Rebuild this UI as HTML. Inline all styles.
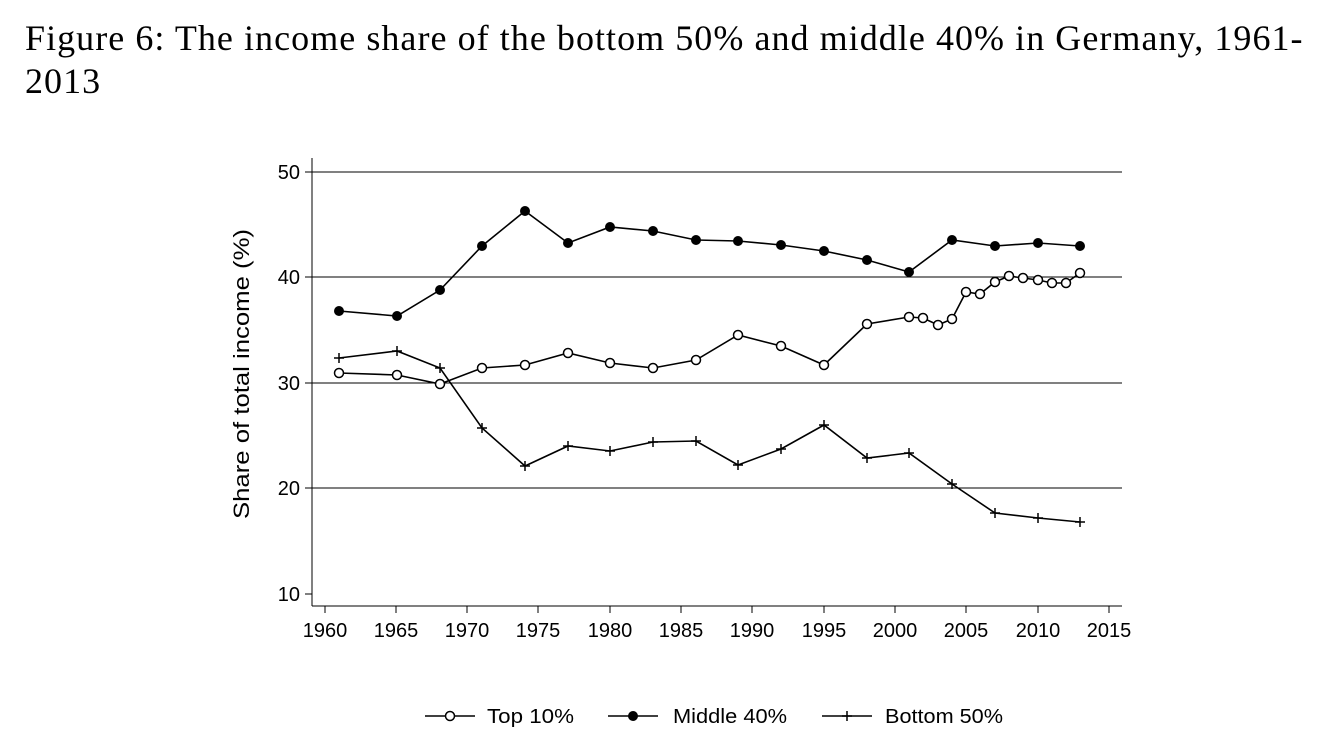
<!DOCTYPE html>
<html><head><meta charset="utf-8"><style>
body{margin:0;background:#fff;width:1338px;height:750px;overflow:hidden}
.t{position:absolute;left:25px;top:17px;font-family:"Liberation Serif",serif;font-size:36px;line-height:43px;color:#000;width:1320px;letter-spacing:1.05px}
svg{position:absolute;left:0;top:0}
text{font-family:"Liberation Sans",sans-serif;font-size:20px;fill:#000}
</style></head><body>
<div class="t">Figure 6: The income share of the bottom 50% and middle 40% in Germany, 1961-<br>2013</div>
<svg width="1338" height="750" viewBox="0 0 1338 750">
<g stroke="#000" stroke-width="1" fill="none">
<line x1="312" y1="172" x2="1122" y2="172"/>
<line x1="312" y1="277" x2="1122" y2="277"/>
<line x1="312" y1="383" x2="1122" y2="383"/>
<line x1="312" y1="488" x2="1122" y2="488"/>
<line x1="312" y1="158" x2="312" y2="606"/>
<line x1="312" y1="606" x2="1122" y2="606"/>
<path d="M305 172H312M305 277H312M305 383H312M305 488H312M305 594H312"/>
<path d="M325 606v7M396 606v7M467 606v7M538 606v7M610 606v7M681 606v7M752 606v7M824 606v7M895 606v7M966 606v7M1038 606v7M1109 606v7"/>
</g>
<g text-anchor="end"><text x="300" y="179">50</text><text x="300" y="284">40</text><text x="300" y="390">30</text><text x="300" y="495">20</text><text x="300" y="601">10</text></g>
<g text-anchor="middle"><text x="325" y="637">1960</text><text x="396" y="637">1965</text><text x="467" y="637">1970</text><text x="538" y="637">1975</text><text x="610" y="637">1980</text><text x="681" y="637">1985</text><text x="752" y="637">1990</text><text x="824" y="637">1995</text><text x="895" y="637">2000</text><text x="966" y="637">2005</text><text x="1038" y="637">2010</text><text x="1109" y="637">2015</text></g>
<text transform="translate(249,374) rotate(-90)" text-anchor="middle" style="font-size:22px" textLength="290" lengthAdjust="spacingAndGlyphs">Share of total income (%)</text>
<g stroke="#000" stroke-width="1.6" fill="none">
<polyline points="339,311 397,316 440,290 482,246 525,211 568,243 610,227 653,231 696,240 738,241 781,245 824,251 867,260 909,272 952,240 995,246 1038,243 1080,246"/>
<polyline points="339,373 397,375 440,384 482,368 525,365 568,353 610,363 653,368 696,360 738,335 781,346 824,365 867,324 909,317 923,318 938,325 952,319 966,292 980,294 995,282 1009,276 1023,278 1038,280 1052,283 1066,283 1080,273"/>
<polyline points="339,358 397,351 440,368 482,428 525,466 568,446 610,451 653,442 696,441 738,465 781,449 824,425 867,458 909,453 952,484 995,513 1038,518 1080,522"/>
</g>
<g fill="#000">
<circle cx="339" cy="311" r="5"/><circle cx="397" cy="316" r="5"/><circle cx="440" cy="290" r="5"/><circle cx="482" cy="246" r="5"/><circle cx="525" cy="211" r="5"/><circle cx="568" cy="243" r="5"/><circle cx="610" cy="227" r="5"/><circle cx="653" cy="231" r="5"/><circle cx="696" cy="240" r="5"/><circle cx="738" cy="241" r="5"/><circle cx="781" cy="245" r="5"/><circle cx="824" cy="251" r="5"/><circle cx="867" cy="260" r="5"/><circle cx="909" cy="272" r="5"/><circle cx="952" cy="240" r="5"/><circle cx="995" cy="246" r="5"/><circle cx="1038" cy="243" r="5"/><circle cx="1080" cy="246" r="5"/>
</g>
<g fill="#fff" stroke="#000" stroke-width="1.5">
<circle cx="339" cy="373" r="4.5"/><circle cx="397" cy="375" r="4.5"/><circle cx="440" cy="384" r="4.5"/><circle cx="482" cy="368" r="4.5"/><circle cx="525" cy="365" r="4.5"/><circle cx="568" cy="353" r="4.5"/><circle cx="610" cy="363" r="4.5"/><circle cx="653" cy="368" r="4.5"/><circle cx="696" cy="360" r="4.5"/><circle cx="738" cy="335" r="4.5"/><circle cx="781" cy="346" r="4.5"/><circle cx="824" cy="365" r="4.5"/><circle cx="867" cy="324" r="4.5"/><circle cx="909" cy="317" r="4.5"/><circle cx="923" cy="318" r="4.5"/><circle cx="938" cy="325" r="4.5"/><circle cx="952" cy="319" r="4.5"/><circle cx="966" cy="292" r="4.5"/><circle cx="980" cy="294" r="4.5"/><circle cx="995" cy="282" r="4.5"/><circle cx="1009" cy="276" r="4.5"/><circle cx="1023" cy="278" r="4.5"/><circle cx="1038" cy="280" r="4.5"/><circle cx="1052" cy="283" r="4.5"/><circle cx="1066" cy="283" r="4.5"/><circle cx="1080" cy="273" r="4.5"/>
</g>
<g stroke="#000" stroke-width="1.5">
<path d="M334 358h10M339 353v10M392 351h10M397 346v10M435 368h10M440 363v10M477 428h10M482 423v10M520 466h10M525 461v10M563 446h10M568 441v10M605 451h10M610 446v10M648 442h10M653 437v10M691 441h10M696 436v10M733 465h10M738 460v10M776 449h10M781 444v10M819 425h10M824 420v10M862 458h10M867 453v10M904 453h10M909 448v10M947 484h10M952 479v10M990 513h10M995 508v10M1033 518h10M1038 513v10M1075 522h10M1080 517v10"/>
<path d="M425 716h50M608 716h50M822 716h50"/>
<path d="M842 716h10M847 711v10"/>
</g>
<circle cx="450" cy="716" r="4.5" fill="#fff" stroke="#000" stroke-width="1.5"/>
<circle cx="633" cy="716" r="5" fill="#000"/>
<text x="487" y="723" textLength="87" lengthAdjust="spacingAndGlyphs">Top 10%</text><text x="673" y="723" textLength="114" lengthAdjust="spacingAndGlyphs">Middle 40%</text><text x="885" y="723" textLength="118" lengthAdjust="spacingAndGlyphs">Bottom 50%</text>
</svg>
</body></html>
